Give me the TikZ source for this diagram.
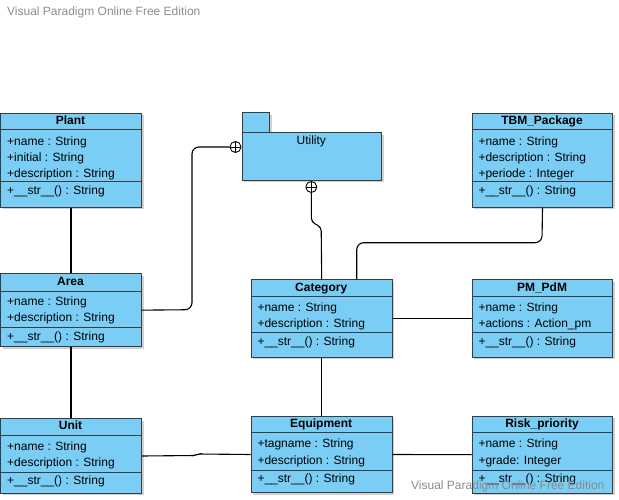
\documentclass[tikz,border=0pt]{standalone}
\usepackage{fontspec}
\setmainfont{Liberation Sans}
\usetikzlibrary{shadows}
\definecolor{classblue}{HTML}{7ACEF5}
\definecolor{classline}{HTML}{3C3C3C}
\tikzset{
	classbox/.style={draw=classline, line width=1pt, fill=classblue, inner sep=0, anchor=north west,
		drop shadow={shadow xshift=2pt, shadow yshift=-2pt, opacity=0.18, fill=black}},
	sepline/.style={draw=classline, line width=1pt},
	ctitle/.style={font=\fontsize{12}{14}\selectfont\bfseries, inner sep=0, text height=9pt, text depth=0.6pt},
	cattr/.style={font=\fontsize{12}{14}\selectfont, inner sep=0, anchor=west, text height=9pt, text depth=0.6pt},
	link/.style={draw=black, line width=1.1pt, rounded corners=7pt},
	oplus/.style={circle, draw=black, line width=0.9pt, fill=white, inner sep=0, minimum size=11pt,
		path picture={\draw[line width=0.9pt] (path picture bounding box.north) -- (path picture bounding box.south)
			(path picture bounding box.west) -- (path picture bounding box.east);}},
	stamp/.style={font=\fontsize{12}{14}\selectfont, text=black!45, inner sep=0, anchor=west,
		text height=9pt, text depth=0.6pt}
}
\begin{document}
\begin{tikzpicture}[x=1pt, y=-1pt]
	\useasboundingbox (0,0) rectangle (619,500);
	\node[stamp] (stamptop) at(7,11){Visual Paradigm Online Free Edition};

	% Plant
	\node[classbox, minimum width=141pt, minimum height=94pt] (plant) at(0,112.7){};
		\draw[sepline] (0,129.3) to (141,129.3);
		\draw[sepline] (0,182) to (141,182);
		\node[ctitle] (plant-t) at(70.5,120.5){Plant};
		\node[cattr] (plant-a1) at(7,141){+name : String};
		\node[cattr] (plant-a2) at(7,157){+initial : String};
		\node[cattr] (plant-a3) at(7,173){+description : String};
		\node[cattr] (plant-m1) at(7,190.7){+\_\_str\_\_() : String};

	% Utility
	\node[classbox, minimum width=27.6pt, minimum height=20pt] (utiltab) at(241.7,112.3){};
	\node[classbox, minimum width=139.3pt, minimum height=47.7pt] (utility) at(241.7,132.3){};
		\node[cattr, anchor=center] (utility-t) at(311.3,140.7){Utility};
	\node[oplus] (uplus-l) at(235.5,147){};
	\node[oplus] (uplus-b) at(311.3,187){};

	% TBM_Package
	\node[classbox, minimum width=140.6pt, minimum height=94pt] (tbm) at(471.7,112.7){};
		\draw[sepline] (471.7,129.3) to (612.3,129.3);
		\draw[sepline] (471.7,182) to (612.3,182);
		\node[ctitle] (tbm-t) at(542,120.5){TBM\_Package};
		\node[cattr] (tbm-a1) at(478.3,141){+name : String};
		\node[cattr] (tbm-a2) at(478.3,157){+description : String};
		\node[cattr] (tbm-a3) at(478.3,173){+periode : Integer};
		\node[cattr] (tbm-m1) at(478.3,190.7){+\_\_str\_\_() : String};

	% Area
	\node[classbox, minimum width=141pt, minimum height=72.7pt] (area) at(0,273.3){};
		\draw[sepline] (0,291.7) to (141,291.7);
		\draw[sepline] (0,327.3) to (141,327.3);
		\node[ctitle] (area-t) at(70.5,281){Area};
		\node[cattr] (area-a1) at(7,301.7){+name : String};
		\node[cattr] (area-a2) at(7,317.7){+description : String};
		\node[cattr] (area-m1) at(7,336){+\_\_str\_\_() : String};

	% Category
	\node[classbox, minimum width=141pt, minimum height=77.4pt] (category) at(250.7,279.3){};
		\draw[sepline] (250.7,296) to (391.7,296);
		\draw[sepline] (250.7,332.7) to (391.7,332.7);
		\node[ctitle] (category-t) at(321.2,287){Category};
		\node[cattr] (category-a1) at(257.3,307.7){+name : String};
		\node[cattr] (category-a2) at(257.3,323.3){+description : String};
		\node[cattr] (category-m1) at(257.3,341.3){+\_\_str\_\_() : String};

	% PM_PdM
	\node[classbox, minimum width=140.6pt, minimum height=77.4pt] (pmpdm) at(471.7,279.3){};
		\draw[sepline] (471.7,296) to (612.3,296);
		\draw[sepline] (471.7,332.7) to (612.3,332.7);
		\node[ctitle] (pmpdm-t) at(542,287){PM\_PdM};
		\node[cattr] (pmpdm-a1) at(478.3,307.7){+name : String};
		\node[cattr] (pmpdm-a2) at(478.3,323.3){+actions : Action\_pm};
		\node[cattr] (pmpdm-m1) at(478.3,341.3){+\_\_str\_\_() : String};

	% Unit
	\node[classbox, minimum width=141pt, minimum height=74.4pt] (unit) at(0,418.3){};
		\draw[sepline] (0,435.7) to (141,435.7);
		\draw[sepline] (0,472.3) to (141,472.3);
		\node[ctitle] (unit-t) at(70.5,425.5){Unit};
		\node[cattr] (unit-a1) at(7,446.7){+name : String};
		\node[cattr] (unit-a2) at(7,462.3){+description : String};
		\node[cattr] (unit-m1) at(7,480.7){+\_\_str\_\_() : String};

	% Equipment
	\node[classbox, minimum width=141pt, minimum height=76.6pt] (equipment) at(250.7,415.7){};
		\draw[sepline] (250.7,432.7) to (391.7,432.7);
		\draw[sepline] (250.7,470) to (391.7,470);
		\node[ctitle] (equipment-t) at(321.2,423){Equipment};
		\node[cattr] (equipment-a1) at(257.3,443.3){+tagname : String};
		\node[cattr] (equipment-a2) at(257.3,460){+description : String};
		\node[cattr] (equipment-m1) at(257.3,478.3){+\_\_str\_\_() : String};

	% Risk_priority
	\node[classbox, minimum width=140.6pt, minimum height=77pt] (risk) at(471.7,415.7){};
		\draw[sepline] (471.7,432.7) to (612.3,432.7);
		\draw[sepline] (471.7,470) to (612.3,470);
		\node[ctitle] (risk-t) at(542,423){Risk\_priority};
		\node[cattr] (risk-a1) at(478.3,443.3){+name : String};
		\node[cattr] (risk-a2) at(478.3,460){+grade: Integer};
		\node[cattr] (risk-m1) at(478.3,478.3){+\_\_str\_\_() : String};

	% links
	\draw[link] (plant.south) to (area.north);
	\draw[link] (area.south) to (unit.north);
	\draw[link] (area.east) -- (192,309.7) -- (192,147) -- (uplus-l.west);
	\draw[link, rounded corners=4pt] (uplus-b.south) -- (311.3,222) -- (321.2,227) -- (category.north);
	\draw[link] (tbm.south) -- (542,242.7) -- (356.7,242.7) -- (356.7,279.3);
	\draw[link] (category.east) to (pmpdm.west);
	\draw[link] (category.south) to (equipment.north);
	\draw[link, rounded corners=2pt] (unit.east) -- (195,455.5) -- (198,454) -- (equipment.west);
	\draw[link] (equipment.east) to (risk.west);

	\node[stamp] (stampbot) at(411,485){Visual Paradigm Online Free Edition};
\end{tikzpicture}
\end{document}
